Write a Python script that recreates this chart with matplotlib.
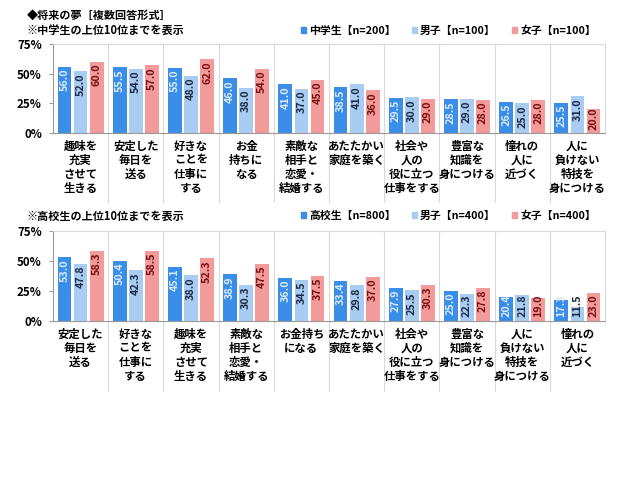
import numpy as np
import matplotlib
matplotlib.use('Agg')
import matplotlib.pyplot as plt
from matplotlib.patches import Patch

plt.rcParams['font.family'] = ['Noto Sans CJK JP', 'DejaVu Sans']
plt.rcParams['font.weight'] = 'bold'

# 中学生 (top ten)
cats_jh = ['趣味を\n充実\nさせて\n生きる', '安定した\n毎日を\n送る', '好きな\nことを\n仕事に\nする',
           'お金\n持ちに\nなる', '素敵な\n相手と\n恋愛・\n結婚する', 'あたたかい\n家庭を築く',
           '社会や\n人の\n役に立つ\n仕事をする', '豊富な\n知識を\n身につける', '憧れの\n人に\n近づく',
           '人に\n負けない\n特技を\n身につける']
jh_all = [56.0, 55.5, 55.0, 46.0, 41.0, 38.5, 29.5, 28.5, 26.5, 25.5]
jh_boy = [52.0, 54.0, 48.0, 38.0, 37.0, 41.0, 30.0, 29.0, 25.0, 31.0]
jh_girl = [60.0, 57.0, 62.0, 54.0, 45.0, 36.0, 29.0, 28.0, 28.0, 20.0]
jh_legend = ['中学生【n=200】', '男子【n=100】', '女子【n=100】']

# 高校生 (top ten)
cats_hs = ['安定した\n毎日を\n送る', '好きな\nことを\n仕事に\nする', '趣味を\n充実\nさせて\n生きる',
           '素敵な\n相手と\n恋愛・\n結婚する', 'お金持ち\nになる', 'あたたかい\n家庭を築く',
           '社会や\n人の\n役に立つ\n仕事をする', '豊富な\n知識を\n身につける',
           '人に\n負けない\n特技を\n身につける', '憧れの\n人に\n近づく']
hs_all = [53.0, 50.4, 45.1, 38.9, 36.0, 33.4, 27.9, 25.0, 20.4, 17.3]
hs_boy = [47.8, 42.3, 38.0, 30.3, 34.5, 29.8, 25.5, 22.3, 21.8, 11.5]
hs_girl = [58.3, 58.5, 52.3, 47.5, 37.5, 37.0, 30.3, 27.8, 19.0, 23.0]
hs_legend = ['高校生【n=800】', '男子【n=400】', '女子【n=400】']

yticks = [0, 25, 50, 75]

bar_colors = ['#3a8ee8', '#a9cdf2', '#f39a9a']
text_colors = ['#dbeafa', '#1c2b45', '#7a1010']
grid_col = '#d9d9d9'

fig = plt.figure(figsize=(6.29, 4.80), dpi=100)


def panel(rect, cats, series, legend_labels, note, note_y, legend_y):
    ax = fig.add_axes(rect)
    x = np.arange(len(cats))
    w = 0.25
    offs = [-0.29, 0, 0.29]
    for vals, off, bc, tc in zip(series, offs, bar_colors, text_colors):
        ax.bar(x + off, vals, width=w, color=bc, zorder=2)
        for xi, v in zip(x, vals):
            ax.text(xi + off, max(v - 1.5, 22), f'{v:.1f}', rotation=90, ha='center', va='top',
                    fontsize=7.8, color=tc, fontweight='bold', zorder=3)
    ax.set_xlim(-0.5, len(cats) - 0.5)
    ax.set_ylim(0, 75)
    ax.set_yticks(yticks)
    ax.set_yticklabels([f'{t}%' for t in yticks], fontsize=8.3, fontweight='bold')
    ax.tick_params(axis='y', length=3, color='#999999', pad=5)
    ax.tick_params(axis='x', length=0, pad=5)
    ax.set_xticks(x)
    ax.set_xticklabels(cats, fontsize=8.2, fontweight='bold', linespacing=1.1, va='top')
    for s in ax.spines.values():
        s.set_color(grid_col)
        s.set_linewidth(0.8)
    ax.spines['left'].set_color('#999999')
    ax.spines['bottom'].set_color('#999999')
    for b in np.arange(0.5, len(cats) - 0.5, 1):
        ax.axvline(b, ymin=-0.78, ymax=1, color=grid_col, lw=0.8, clip_on=False, zorder=1)
    fig.text(27 / 629, 1 - note_y / 480, note, fontsize=8, fontweight='bold', va='center')
    handles = [Patch(color=c) for c in bar_colors]
    fig.legend(handles, legend_labels, loc='center left', bbox_to_anchor=(301 / 629, 1 - legend_y / 480),
               ncol=3, frameon=False, handlelength=0.45, handleheight=0.45,
               handletextpad=0.3, columnspacing=1.5, borderpad=0, borderaxespad=0,
               prop={'weight': 'bold', 'size': 7.8})
    return ax


fig.text(27 / 629, 1 - 15 / 480, '◆将来の夢［複数回答形式］', fontsize=8, fontweight='bold', va='center')

panel([53 / 629, 1 - 133 / 480, 552 / 629, 89 / 480], cats_jh, [jh_all, jh_boy, jh_girl],
      jh_legend, '※中学生の上位10位までを表示', 31, 31)
panel([53 / 629, 1 - 321 / 480, 552 / 629, 90 / 480], cats_hs, [hs_all, hs_boy, hs_girl],
      hs_legend, '※高校生の上位10位までを表示', 216, 216)

fig.savefig('out.png', dpi=100)
